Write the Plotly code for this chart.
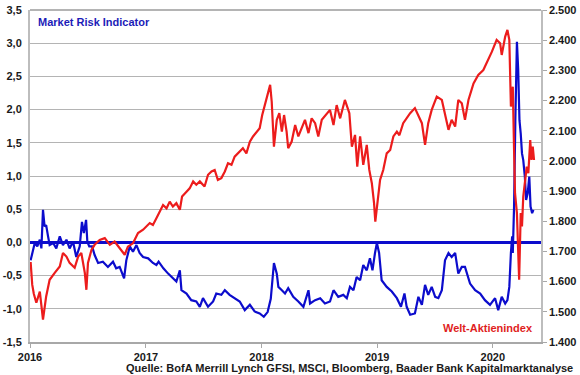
import plotly.graph_objects as go

# Market Risk Indicator (left axis)
risk_dates = [
    "2016-01-03", "2016-01-10", "2016-01-16", "2016-01-24", "2016-02-01", "2016-02-06",
    "2016-02-11", "2016-02-16", "2016-02-21", "2016-02-27", "2016-03-03", "2016-03-14",
    "2016-03-24", "2016-04-04", "2016-04-14", "2016-04-25", "2016-05-05", "2016-05-16",
    "2016-05-26", "2016-06-06", "2016-06-13", "2016-06-19", "2016-06-26", "2016-06-30",
    "2016-07-06", "2016-07-15", "2016-07-23", "2016-08-03", "2016-08-18", "2016-09-03",
    "2016-09-19", "2016-09-29", "2016-10-10", "2016-10-24", "2016-10-31", "2016-11-11",
    "2016-11-21", "2016-12-02", "2016-12-12", "2016-12-23", "2017-01-08", "2017-01-23",
    "2017-02-03", "2017-02-10", "2017-02-25", "2017-03-12", "2017-03-27", "2017-04-07",
    "2017-04-18", "2017-04-23", "2017-05-09", "2017-05-24", "2017-06-09", "2017-06-20",
    "2017-06-30", "2017-07-16", "2017-08-01", "2017-08-11", "2017-08-27", "2017-09-07",
    "2017-09-22", "2017-10-08", "2017-10-24", "2017-11-09", "2017-11-25", "2017-12-10",
    "2017-12-26", "2018-01-08", "2018-01-20", "2018-01-30", "2018-02-09", "2018-02-18",
    "2018-02-23", "2018-03-06", "2018-03-16", "2018-03-26", "2018-04-11", "2018-04-27",
    "2018-05-13", "2018-05-29", "2018-06-03", "2018-06-19", "2018-07-05", "2018-07-20",
    "2018-08-05", "2018-08-16", "2018-08-31", "2018-09-16", "2018-09-27", "2018-10-07",
    "2018-10-18", "2018-10-28", "2018-11-08", "2018-11-18", "2018-11-29", "2018-12-09",
    "2018-12-17", "2018-12-25", "2018-12-31", "2019-01-07", "2019-01-15", "2019-01-31",
    "2019-02-16", "2019-03-04", "2019-03-17", "2019-03-28", "2019-04-04", "2019-04-15",
    "2019-04-30", "2019-05-11", "2019-05-22", "2019-06-01", "2019-06-11", "2019-06-22",
    "2019-07-03", "2019-07-13", "2019-07-24", "2019-08-03", "2019-08-14", "2019-08-24",
    "2019-09-04", "2019-09-14", "2019-09-25", "2019-10-05", "2019-10-21", "2019-11-06",
    "2019-11-22", "2019-12-07", "2019-12-23", "2020-01-08", "2020-01-18", "2020-01-29",
    "2020-02-09", "2020-02-16", "2020-02-22", "2020-02-27", "2020-03-02", "2020-03-04",
    "2020-03-08", "2020-03-12", "2020-03-17", "2020-03-21", "2020-03-25", "2020-03-29",
    "2020-04-02", "2020-04-06", "2020-04-11", "2020-04-15", "2020-04-20", "2020-04-25",
    "2020-04-29", "2020-05-04", "2020-05-08",
]
risk_values = [
    -0.27, -0.14, -0.01, -0.06, 0.04, -0.09,
    0.49, 0.24, 0.26, 0.09, -0.04, -0.01,
    -0.09, 0.09, -0.04, 0.04, -0.09, 0.01,
    -0.22, -0.06, 0.31, 0.14, 0.34, 0.01,
    -0.06, -0.06, -0.19, -0.31, -0.29, -0.37,
    -0.29, -0.39, -0.37, -0.54, -0.27, -0.06,
    -0.14, -0.04, -0.16, -0.22, -0.24, -0.31,
    -0.34, -0.29, -0.39, -0.47, -0.54, -0.59,
    -0.42, -0.72, -0.77, -0.87, -0.89, -0.97,
    -0.84, -0.97, -0.89, -0.77, -0.79, -0.72,
    -0.79, -0.84, -0.89, -1.02, -0.94, -1.04,
    -1.07, -1.12, -1.05, -0.85, -0.31, -0.47,
    -0.67, -0.72, -0.77, -0.69, -0.82, -0.89,
    -0.97, -0.72, -0.92, -0.87, -0.84, -0.92,
    -0.89, -0.72, -0.82, -0.79, -0.84, -0.67,
    -0.72, -0.52, -0.57, -0.34, -0.42, -0.24,
    -0.42, -0.16, -0.01, -0.16, -0.57, -0.67,
    -0.74, -0.84, -0.97, -0.77, -0.97, -1.09,
    -1.07, -0.82, -0.94, -0.64, -0.79, -0.67,
    -0.82, -0.84, -0.72, -0.27, -0.16, -0.22,
    -0.16, -0.47, -0.37, -0.37, -0.62, -0.72,
    -0.77, -0.87, -0.94, -0.84, -1.02, -0.82,
    -0.92, -0.87, -0.67, -0.16, 0.09, -0.16,
    0.54, 1.84, 3.02, 2.60, 1.84, 1.64,
    1.34, 1.24, 0.99, 0.64, 0.74, 0.99,
    0.54, 0.44, 0.49,
]

# Welt-Aktienindex (right axis)
world_dates = [
    "2016-01-03", "2016-01-08", "2016-01-13", "2016-01-21", "2016-02-01", "2016-02-11",
    "2016-02-21", "2016-03-03", "2016-03-19", "2016-04-04", "2016-04-14", "2016-04-25",
    "2016-05-05", "2016-05-21", "2016-06-01", "2016-06-11", "2016-06-22", "2016-06-27",
    "2016-07-02", "2016-07-13", "2016-07-23", "2016-08-08", "2016-08-24", "2016-09-09",
    "2016-09-24", "2016-10-10", "2016-10-26", "2016-11-05", "2016-11-21", "2016-12-07",
    "2016-12-23", "2017-01-13", "2017-01-23", "2017-02-03", "2017-02-13", "2017-02-24",
    "2017-03-07", "2017-03-17", "2017-03-27", "2017-04-07", "2017-04-18", "2017-04-25",
    "2017-05-09", "2017-05-19", "2017-05-30", "2017-06-09", "2017-06-20", "2017-07-05",
    "2017-07-16", "2017-07-27", "2017-08-06", "2017-08-16", "2017-08-27", "2017-09-07",
    "2017-09-17", "2017-09-28", "2017-10-08", "2017-10-24", "2017-11-03", "2017-11-14",
    "2017-11-25", "2017-12-05", "2017-12-16", "2017-12-26", "2018-01-03", "2018-01-14",
    "2018-01-28", "2018-02-02", "2018-02-09", "2018-02-18", "2018-02-26", "2018-03-06",
    "2018-03-13", "2018-03-21", "2018-03-26", "2018-04-06", "2018-04-17", "2018-04-27",
    "2018-05-08", "2018-05-18", "2018-05-29", "2018-06-08", "2018-06-19", "2018-06-29",
    "2018-07-10", "2018-07-26", "2018-08-05", "2018-08-16", "2018-08-26", "2018-09-06",
    "2018-09-21", "2018-10-05", "2018-10-13", "2018-10-23", "2018-10-30", "2018-11-08",
    "2018-11-18", "2018-11-29", "2018-12-07", "2018-12-15", "2018-12-22", "2018-12-26",
    "2019-01-01", "2019-01-10", "2019-01-20", "2019-01-31", "2019-02-11", "2019-02-21",
    "2019-03-04", "2019-03-12", "2019-03-24", "2019-04-15", "2019-04-30", "2019-05-11",
    "2019-05-22", "2019-06-01", "2019-06-11", "2019-06-22", "2019-07-08", "2019-07-24",
    "2019-08-03", "2019-08-14", "2019-08-24", "2019-09-04", "2019-09-14", "2019-09-25",
    "2019-10-05", "2019-10-16", "2019-11-01", "2019-11-16", "2019-12-02", "2019-12-18",
    "2019-12-29", "2020-01-13", "2020-01-24", "2020-01-29", "2020-02-09", "2020-02-16",
    "2020-02-22", "2020-02-27", "2020-03-04", "2020-03-08", "2020-03-11", "2020-03-17",
    "2020-03-20", "2020-03-24", "2020-03-29", "2020-04-02", "2020-04-06", "2020-04-12",
    "2020-04-17", "2020-04-22", "2020-04-28", "2020-05-02", "2020-05-06", "2020-05-10",
]
world_values = [
    1665, 1590, 1560, 1530, 1567, 1474,
    1551, 1606, 1629, 1650, 1695, 1683,
    1662, 1646, 1683, 1695, 1629, 1573,
    1662, 1705, 1722, 1738, 1744, 1722,
    1733, 1711, 1689, 1716, 1727, 1761,
    1772, 1794, 1788, 1810, 1832, 1854,
    1843, 1865, 1849, 1860, 1838, 1882,
    1898, 1909, 1932, 1921, 1932, 1915,
    1954, 1965, 1970, 1937, 1943, 1965,
    1992, 1987, 2014, 2031, 2042, 2025,
    2064, 2081, 2097, 2108, 2152, 2196,
    2252, 2196, 2047, 2136, 2158, 2097,
    2152, 2097, 2042, 2064, 2119, 2081,
    2108, 2136, 2092, 2141, 2125, 2081,
    2136, 2158, 2169, 2119, 2185, 2141,
    2202, 2158, 2047, 2086, 1981, 2081,
    1987, 2053, 1970, 1926, 1860, 1799,
    1860, 1937, 1970, 2025, 2036, 2081,
    2097, 2085, 2125, 2158, 2175, 2147,
    2125, 2053, 2125, 2169, 2213, 2202,
    2158, 2103, 2136, 2114, 2202, 2191,
    2136, 2202, 2257, 2285, 2301, 2334,
    2362, 2401, 2390, 2351, 2412, 2434,
    2401, 2180, 2246, 2036, 1893, 1827,
    1694, 1606, 1827, 1783, 1882, 1948,
    1981, 1959, 2069, 2003, 2047, 2003,
]

left_ticks = [-1.5, -1.0, -0.5, 0.0, 0.5, 1.0, 1.5, 2.0, 2.5, 3.0, 3.5]
left_tick_labels = ["-1,5", "-1,0", "-0,5", "0,0", "0,5", "1,0", "1,5", "2,0", "2,5", "3,0", "3,5"]
right_ticks = [1400, 1500, 1600, 1700, 1800, 1900, 2000, 2100, 2200, 2300, 2400, 2500]
right_tick_labels = ["1.400", "1.500", "1.600", "1.700", "1.800", "1.900", "2.000",
                     "2.100", "2.200", "2.300", "2.400", "2.500"]
year_ticks = ["2016-01-01", "2017-01-01", "2018-01-01", "2019-01-01", "2020-01-01"]
year_labels = ["2016", "2017", "2018", "2019", "2020"]

BLUE = "#0C0CCC"
RED = "#EC1C1C"
FONT = "Liberation Sans, Arial, sans-serif"
TXT = "#1A1A1A"

fig = go.Figure()
fig.add_trace(go.Scatter(x=world_dates, y=world_values, mode="lines", yaxis="y2",
                         line=dict(color=RED, width=2.2), name="Welt-Aktienindex"))
fig.add_trace(go.Scatter(x=risk_dates, y=risk_values, mode="lines",
                         line=dict(color=BLUE, width=2.2), name="Market Risk Indicator"))

fig.update_layout(
    width=580, height=375,
    margin=dict(l=30, r=39, t=10, b=33),
    paper_bgcolor="white", plot_bgcolor="white",
    showlegend=False,
    font=dict(family=FONT, size=11, color=TXT),
    xaxis=dict(
        type="date", range=["2016-01-01", "2020-06-01"], automargin=False,
        tickvals=year_ticks, ticktext=year_labels,
        tickfont=dict(family=FONT, size=11, color=TXT, weight="bold"),
        showgrid=False, showline=True, linecolor="#A8A8A8", linewidth=1.5,
        ticks="outside", ticklen=4, tickcolor="#A8A8A8",
        zeroline=False,
    ),
    yaxis=dict(
        range=[-1.5, 3.5], tickvals=left_ticks, ticktext=left_tick_labels, automargin=False,
        tickfont=dict(family=FONT, size=11, color=TXT, weight="bold"),
        showgrid=True, gridcolor="#B4B4B4", gridwidth=1,
        showline=True, linecolor="#BDBDBD", linewidth=2,
        ticks="", ticklabelstandoff=4,
        zeroline=True, zerolinecolor=BLUE, zerolinewidth=2.5,
    ),
    yaxis2=dict(
        overlaying="y", side="right", range=[1400, 2500], automargin=False,
        tickvals=right_ticks, ticktext=right_tick_labels,
        tickfont=dict(family=FONT, size=11, color=TXT, weight="bold"),
        showgrid=False, zeroline=False,
        showline=True, linecolor="#BDBDBD", linewidth=1.5,
        ticks="outside", ticklen=4, tickcolor="#A8A8A8",
    ),
    shapes=[dict(type="line", xref="paper", yref="paper", x0=0, x1=1, y0=1, y1=1,
                 line=dict(color="#6A6A6A", width=1.2))],
    annotations=[
        dict(text="Market Risk Indicator", xref="paper", yref="paper", x=0.012, y=0.965,
             xanchor="left", yanchor="middle", showarrow=False,
             font=dict(family=FONT, size=11, color="#1C1CB8", weight="bold")),
        dict(text="Welt-Aktienindex", xref="paper", yref="paper", x=0.988, y=0.042,
             xanchor="right", yanchor="middle", showarrow=False,
             font=dict(family=FONT, size=11, color="#E01E1E", weight="bold")),
        dict(text="Quelle: BofA Merrill Lynch GFSI, MSCI, Bloomberg, Baader Bank Kapitalmarktanalyse",
             xref="paper", yref="paper", x=1.066, y=-0.078, xanchor="right", yanchor="middle",
             showarrow=False, font=dict(family=FONT, size=11, color=TXT, weight="bold")),
    ],
)

fig.write_html("out.html", config={"displayModeBar": False},
               post_script="document.body.style.margin='0';")
